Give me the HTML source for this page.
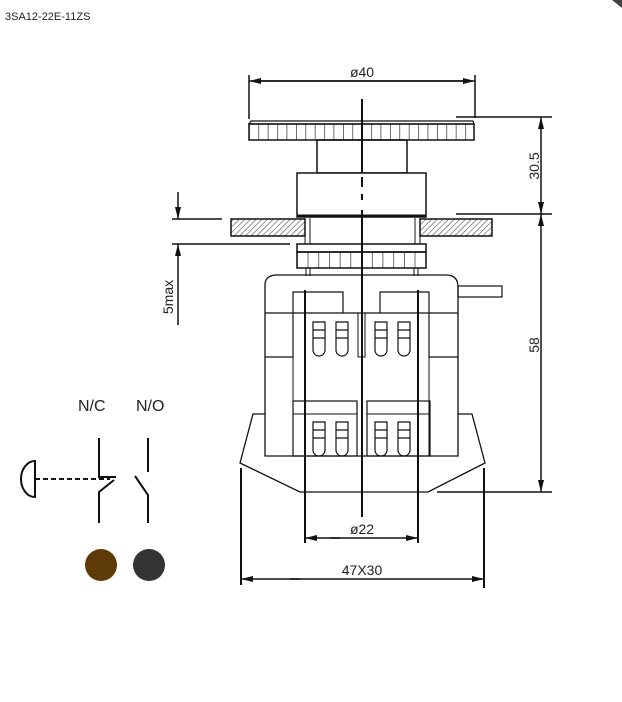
<!DOCTYPE html>
<html><head><style>
html,body{margin:0;padding:0;background:#fff;width:622px;height:702px;overflow:hidden}
svg{display:block}
text{font-family:"Liberation Sans",sans-serif;fill:#222}
</style></head><body>
<svg width="622" height="702" viewBox="0 0 622 702" xmlns="http://www.w3.org/2000/svg">
<defs>
<pattern id="h" width="4" height="4" patternUnits="userSpaceOnUse" patternTransform="rotate(45)">
<line x1="0" y1="0" x2="0" y2="4" stroke="#333" stroke-width="1"/>
</pattern>
<pattern id="k" width="9.4" height="16" patternUnits="userSpaceOnUse" x="249">
<line x1="0" y1="0" x2="0" y2="16" stroke="#222" stroke-width="1.3"/>
</pattern>
<pattern id="k2" width="10.7" height="16" patternUnits="userSpaceOnUse" x="297">
<line x1="0" y1="0" x2="0" y2="16" stroke="#222" stroke-width="1.3"/>
</pattern>
<marker id="a" markerWidth="12" markerHeight="6" refX="12" refY="3" orient="auto" markerUnits="userSpaceOnUse">
<path d="M0,0 L12,3 L0,6 Z" fill="#111"/></marker>
</defs>
<text x="5" y="20" font-size="11">3SA12-22E-11ZS</text>
<path d="M612,0 L622,0 L622,8 Z" fill="#444"/>
<g stroke="#111" stroke-width="1.5" fill="none">
<!-- ø40 -->
<line x1="249" y1="75" x2="249" y2="119"/>
<line x1="475" y1="75" x2="475" y2="118"/>
<line x1="255" y1="81" x2="475" y2="81" marker-end="url(#a)"/>
<line x1="470" y1="81" x2="249" y2="81" marker-end="url(#a)"/>
<!-- cap -->
<path d="M251,121 L473,121 L474,124 L249,124 Z" stroke-width="1.2"/>
<rect x="249" y="124" width="225" height="16" fill="url(#k)"/>
<rect x="317" y="140" width="90" height="33"/>
<rect x="297" y="173" width="129" height="44" fill="#fff"/>
<line x1="297" y1="216" x2="426" y2="216" stroke-width="3"/>
<!-- panel -->
<rect x="231" y="219" width="74" height="17" fill="url(#h)"/>
<rect x="420" y="219" width="72" height="17" fill="url(#h)"/>
<line x1="305" y1="218" x2="305" y2="244" stroke-width="1"/>
<line x1="310" y1="218" x2="310" y2="244" stroke-width="1"/>
<line x1="415" y1="218" x2="415" y2="244" stroke-width="1"/>
<line x1="420" y1="218" x2="420" y2="244" stroke-width="1"/>
<!-- nut -->
<rect x="297" y="244" width="129" height="8"/>
<rect x="297" y="252" width="129" height="16" fill="url(#k2)"/>
<line x1="306" y1="268" x2="306" y2="276" stroke-width="1"/>
<line x1="310" y1="268" x2="310" y2="276" stroke-width="1"/>
<line x1="414" y1="268" x2="414" y2="276" stroke-width="1"/>
<line x1="418" y1="268" x2="418" y2="276" stroke-width="1"/>
<!-- body -->
<path d="M265,456 L265,285 Q265,275 277,275 L446,275 Q458,275 458,287 L458,456 Z" stroke-width="1.3"/>
<rect x="458" y="286" width="44" height="11" stroke-width="1.2"/>
<line x1="265" y1="313" x2="458" y2="313" stroke-width="1.2"/>
<path d="M265,357 L293,357 L293,292 L343,292 L343,313" stroke-width="1.2"/>
<path d="M458,357 L429,357 L429,292 L380,292 L380,313" stroke-width="1.2"/>
<line x1="293" y1="357" x2="293" y2="456" stroke-width="1"/>
<line x1="429" y1="357" x2="429" y2="456" stroke-width="1"/>
<rect x="358" y="313" width="7" height="44" stroke-width="1"/>
<rect x="293" y="401" width="64" height="55" stroke-width="1.2"/>
<rect x="367" y="401" width="63" height="55" stroke-width="1.2"/>
<line x1="293" y1="414" x2="357" y2="414" stroke-width="1"/>
<line x1="367" y1="414" x2="430" y2="414" stroke-width="1"/>
<g stroke-width="1.2">
<path d="M313,322 h12 v28 a6,6 0 0 1 -12,0 Z M313,330 h12 M313,338 h12"/>
<path d="M336,322 h12 v28 a6,6 0 0 1 -12,0 Z M336,330 h12 M336,338 h12"/>
<path d="M375,322 h12 v28 a6,6 0 0 1 -12,0 Z M375,330 h12 M375,338 h12"/>
<path d="M398,322 h12 v28 a6,6 0 0 1 -12,0 Z M398,330 h12 M398,338 h12"/>
<path d="M313,422 h12 v28 a6,6 0 0 1 -12,0 Z M313,430 h12 M313,438 h12"/>
<path d="M336,422 h12 v28 a6,6 0 0 1 -12,0 Z M336,430 h12 M336,438 h12"/>
<path d="M375,422 h12 v28 a6,6 0 0 1 -12,0 Z M375,430 h12 M375,438 h12"/>
<path d="M398,422 h12 v28 a6,6 0 0 1 -12,0 Z M398,430 h12 M398,438 h12"/>
</g>
<!-- base -->
<path d="M265,414 L253,414 L240,463 L300,492 L428,492 L485,463 L472,414 L458,414" stroke-width="1.3"/>
<!-- centerline -->
<line x1="362" y1="99" x2="362" y2="172" stroke-width="2"/>
<line x1="362" y1="177" x2="362" y2="187" stroke-width="2"/>
<line x1="362" y1="194" x2="362" y2="200" stroke-width="2"/>
<line x1="362" y1="210" x2="362" y2="517" stroke-width="2"/>
<!-- ø22 -->
<line x1="305" y1="290" x2="305" y2="543" stroke-width="2"/>
<line x1="418" y1="290" x2="418" y2="543" stroke-width="2"/>
<line x1="340" y1="538" x2="305" y2="538" marker-end="url(#a)"/>
<line x1="330" y1="538" x2="418" y2="538" marker-end="url(#a)"/>
<!-- 47x30 -->
<line x1="241" y1="468" x2="241" y2="585" stroke-width="2"/>
<line x1="484" y1="468" x2="484" y2="588" stroke-width="2"/>
<line x1="300" y1="579" x2="241" y2="579" marker-end="url(#a)"/>
<line x1="290" y1="579" x2="484" y2="579" marker-end="url(#a)"/>
<!-- 30.5 / 58 -->
<line x1="456" y1="117" x2="552" y2="117"/>
<line x1="456" y1="214" x2="552" y2="214"/>
<line x1="437" y1="492" x2="552" y2="492"/>
<line x1="541" y1="160" x2="541" y2="117" marker-end="url(#a)"/>
<line x1="541" y1="160" x2="541" y2="214" marker-end="url(#a)"/>
<line x1="541" y1="300" x2="541" y2="214" marker-end="url(#a)"/>
<line x1="541" y1="300" x2="541" y2="492" marker-end="url(#a)"/>
<!-- 5max -->
<line x1="172" y1="219" x2="222" y2="219"/>
<line x1="172" y1="244" x2="290" y2="244"/>
<line x1="178" y1="192" x2="178" y2="219" marker-end="url(#a)"/>
<line x1="178" y1="325" x2="178" y2="244" marker-end="url(#a)"/>
<!-- schematic -->
<g stroke-width="2">
<path d="M99,438 L99,477 L116,477"/>
<path d="M114,480 L99,492 L99,523"/>
<path d="M148,438 L148,472"/>
<path d="M135,476 L148,495 L148,523"/>
<path d="M35,461 A14,18 0 0 0 35,497 Z"/>
<line x1="35" y1="479" x2="110" y2="479" stroke-dasharray="5,3"/>
</g>
</g>
<circle cx="101" cy="565" r="16" fill="#5e3b06"/>
<circle cx="149" cy="565" r="16" fill="#333"/>
<text x="78" y="411" font-size="16">N/C</text>
<text x="136" y="411" font-size="16">N/O</text>
<g font-size="14" text-anchor="middle">
<text x="362" y="77">ø40</text>
<text x="362" y="534">ø22</text>
<text x="362" y="575">47X30</text>
<text transform="translate(539,166) rotate(-90)">30.5</text>
<text transform="translate(539,345) rotate(-90)">58</text>
<text transform="translate(173,297) rotate(-90)">5max</text>
</g>
</svg>
</body></html>
